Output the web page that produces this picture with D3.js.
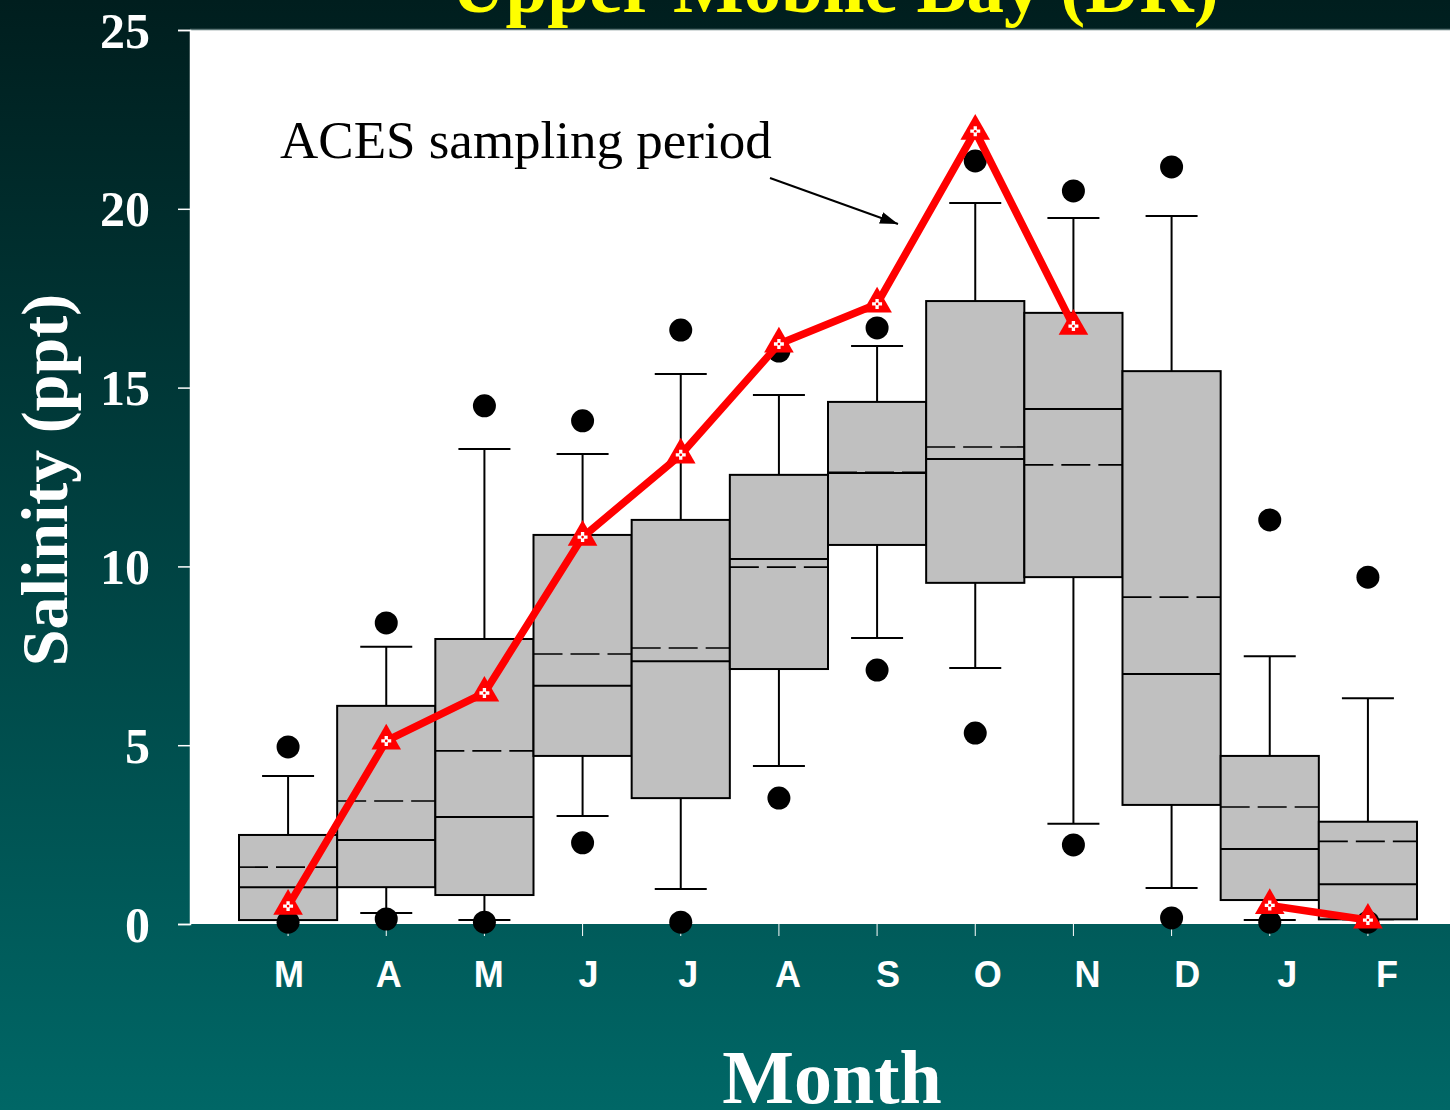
<!DOCTYPE html>
<html>
<head>
<meta charset="utf-8">
<script src="https://cdn.jsdelivr.net/npm/d3@7"></script>
<style>
  html, body { margin: 0; padding: 0; background: #004040; }
  svg { display: block; }
</style>
</head>
<body>
<script>
// ---- data ----
const months = ["M","A","M","J","J","A","S","O","N","D","J","F"];
const q1          = [0.11, 1.03, 0.81, 4.70, 3.52, 7.13, 10.60, 9.54, 9.70, 3.33, 0.67, 0.13];
const medians     = [1.03, 2.35, 2.99, 6.66, 7.35, 10.21, 12.61, 13.00, 14.40, 6.99, 2.10, 1.11];
const q3          = [2.49, 6.10, 7.97, 10.88, 11.30, 12.56, 14.60, 17.42, 17.09, 15.46, 4.70, 2.86];
const means       = [1.59, 3.44, 4.84, 7.55, 7.72, 9.98, 12.63, 13.34, 12.84, 9.14, 3.27, 2.31];
const whiskerLow  = [0.11, 0.31, 0.11, 3.02, 0.98, 4.42, 8.00, 7.16, 2.80, 1.01, 0.11, 0.13];
const whiskerHigh = [4.14, 7.75, 13.28, 13.14, 15.38, 14.79, 16.16, 20.16, 19.74, 19.80, 7.49, 6.31];
const outlierHigh = [4.95, 8.42, 14.49, 14.07, 16.61, 16.02, 16.67, 21.34, 20.50, 21.17, 11.30, 9.70];
const outlierLow  = [0.05, 0.14, 0.05, 2.27, 0.05, 3.52, 7.10, 5.34, 2.21, 0.17, 0.05, 0.05];
const aces        = [0.50, 5.12, 6.46, 10.82, 13.12, 16.22, 17.34, 22.17, 16.72, null, 0.52, 0.11];
const yTicks = [0, 5, 10, 15, 20, 25];
const titleText = "Upper Mobile Bay (DR)";
const yLabel = "Salinity (ppt)";
const xLabel = "Month";
const annotation = "ACES sampling period";

// ---- layout ----
const W = 1450, H = 1110;
const plotLeft = 190, plotTop = 30, plotBottom = 924;
const serif = "'Liberation Serif','Times New Roman',serif";
const sans = "'Liberation Sans',Arial,sans-serif";

const svg = d3.select("body").append("svg").attr("width", W).attr("height", H);

const defs = svg.append("defs");
const grad = defs.append("linearGradient").attr("id", "bg").attr("x1", 0).attr("y1", 0).attr("x2", 0).attr("y2", 1);
grad.append("stop").attr("offset", "0%").attr("stop-color", "#001e1e");
grad.append("stop").attr("offset", "100%").attr("stop-color", "#006766");
svg.append("rect").attr("width", W).attr("height", H).attr("fill", "url(#bg)");

const y = d3.scaleLinear().domain([0, 25]).range([plotBottom, plotTop]);
const idx = d3.range(months.length);
const x = d3.scaleBand().domain(idx).range([239, 1417]).padding(0);
const xl = d3.scalePoint().domain(idx).range([289, 1387]);

// plot area
svg.append("rect").attr("x", plotLeft).attr("y", plotTop)
  .attr("width", W - plotLeft).attr("height", plotBottom - plotTop).attr("fill", "#ffffff");
svg.append("line").attr("x1", plotLeft).attr("x2", W).attr("y1", plotTop - 0.5).attr("y2", plotTop - 0.5)
  .attr("stroke", "#5c7676").attr("stroke-width", 1.5);

// title
svg.append("text").attr("x", 835).attr("y", 12).attr("text-anchor", "middle")
  .attr("fill", "#ffff00").attr("font-family", serif).attr("font-weight", "bold")
  .attr("font-size", 75).text(titleText);

// y axis
const yAxis = svg.append("g").attr("transform", `translate(${plotLeft},0)`)
  .call(d3.axisLeft(y).tickValues(yTicks).tickSize(12).tickPadding(28).tickFormat(d3.format("d")));
yAxis.select(".domain").attr("stroke", "#ffffff").attr("stroke-width", 1.5);
yAxis.selectAll(".tick line").attr("stroke", "#ffffff").attr("stroke-width", 1.5);
yAxis.selectAll(".tick text").attr("fill", "#ffffff").attr("font-family", serif)
  .attr("font-weight", "bold").attr("font-size", 50).attr("dy", "0.34em");

// x axis ticks (small white)
const xAxis = svg.append("g").attr("transform", `translate(0,${plotBottom})`)
  .call(d3.axisBottom(x).tickSize(12).tickFormat(""));
xAxis.select(".domain").remove();
xAxis.selectAll(".tick line").attr("stroke", "#ffffff").attr("stroke-width", 1);

// x labels
svg.append("g").selectAll("text").data(idx).join("text")
  .attr("x", d => xl(d)).attr("y", 987).attr("text-anchor", "middle")
  .attr("fill", "#ffffff").attr("font-family", sans).attr("font-weight", "bold")
  .attr("font-size", 36).text(d => months[d]);

// axis titles
svg.append("text").attr("x", 832).attr("y", 1103).attr("text-anchor", "middle")
  .attr("fill", "#ffffff").attr("font-family", serif).attr("font-weight", "bold")
  .attr("font-size", 76).text(xLabel);
svg.append("text").attr("transform", "translate(67,480) rotate(-90)").attr("text-anchor", "middle")
  .attr("fill", "#ffffff").attr("font-family", serif).attr("font-weight", "bold")
  .attr("font-size", 66).text(yLabel);

// boxes
const bw = x.bandwidth();
const capHalf = 26;
const g = svg.append("g");
const boxes = g.selectAll("g.box").data(idx).join("g").attr("class", "box");
// whiskers
boxes.append("line").attr("x1", d => x(d) + bw / 2).attr("x2", d => x(d) + bw / 2)
  .attr("y1", d => y(q3[d])).attr("y2", d => y(whiskerHigh[d]))
  .attr("stroke", "#000").attr("stroke-width", 2);
boxes.append("line").attr("x1", d => x(d) + bw / 2).attr("x2", d => x(d) + bw / 2)
  .attr("y1", d => y(q1[d])).attr("y2", d => y(whiskerLow[d]))
  .attr("stroke", "#000").attr("stroke-width", 2);
boxes.append("line").attr("x1", d => x(d) + bw / 2 - capHalf).attr("x2", d => x(d) + bw / 2 + capHalf)
  .attr("y1", d => y(whiskerHigh[d])).attr("y2", d => y(whiskerHigh[d]))
  .attr("stroke", "#000").attr("stroke-width", 2);
boxes.append("line").attr("x1", d => x(d) + bw / 2 - capHalf).attr("x2", d => x(d) + bw / 2 + capHalf)
  .attr("y1", d => y(whiskerLow[d])).attr("y2", d => y(whiskerLow[d]))
  .attr("stroke", "#000").attr("stroke-width", 2);
// box
boxes.append("rect").attr("x", d => x(d)).attr("width", bw)
  .attr("y", d => y(q3[d])).attr("height", d => y(q1[d]) - y(q3[d]))
  .attr("fill", "#c0c0c0").attr("stroke", "#000").attr("stroke-width", 2);
// median
boxes.append("line").attr("x1", d => x(d)).attr("x2", d => x(d) + bw)
  .attr("y1", d => y(medians[d])).attr("y2", d => y(medians[d]))
  .attr("stroke", "#000").attr("stroke-width", 2);
// mean dashed
boxes.append("line").attr("x1", d => x(d)).attr("x2", d => x(d) + bw)
  .attr("y1", d => y(means[d])).attr("y2", d => y(means[d]))
  .attr("stroke", "#000").attr("stroke-width", 1.6).attr("stroke-dasharray", "29,8");
// outliers
boxes.append("circle").attr("cx", d => x(d) + bw / 2).attr("cy", d => y(outlierHigh[d])).attr("r", 11.5).attr("fill", "#000");
boxes.append("circle").attr("cx", d => x(d) + bw / 2).attr("cy", d => y(outlierLow[d])).attr("r", 11.5).attr("fill", "#000");

// annotation
defs.append("marker").attr("id", "arrow").attr("viewBox", "0 0 18 12").attr("refX", 18).attr("refY", 6)
  .attr("markerWidth", 18).attr("markerHeight", 12).attr("markerUnits", "userSpaceOnUse")
  .attr("orient", "auto")
  .append("path").attr("d", "M0,0 L18,6 L0,12 z").attr("fill", "#000");
svg.append("text").attr("x", 280).attr("y", 158).attr("fill", "#000").attr("font-family", serif)
  .attr("font-size", 53).text(annotation);
svg.append("line").attr("x1", 770).attr("y1", 178).attr("x2", 898).attr("y2", 224)
  .attr("stroke", "#000").attr("stroke-width", 2).attr("marker-end", "url(#arrow)");

// ACES line
const line = d3.line().defined(d => aces[d] !== null)
  .x(d => x(d) + bw / 2).y(d => y(aces[d]));
svg.append("path").datum(idx).attr("d", line).attr("fill", "none")
  .attr("stroke", "#ff0000").attr("stroke-width", 7.5).attr("stroke-linejoin", "round");
const pts = idx.filter(d => aces[d] !== null);
const mk = svg.append("g").selectAll("g").data(pts).join("g")
  .attr("transform", d => `translate(${x(d) + bw / 2},${y(aces[d])})`);
mk.append("path").attr("d", d3.symbol(d3.symbolTriangle, 380)).attr("fill", "#ff0000");
mk.append("path").attr("d", d3.symbol(d3.symbolCross, 55)).attr("fill", "#ffffff");
mk.append("circle").attr("r", 1.3).attr("fill", "#ff0000");
</script>
</body>
</html>
